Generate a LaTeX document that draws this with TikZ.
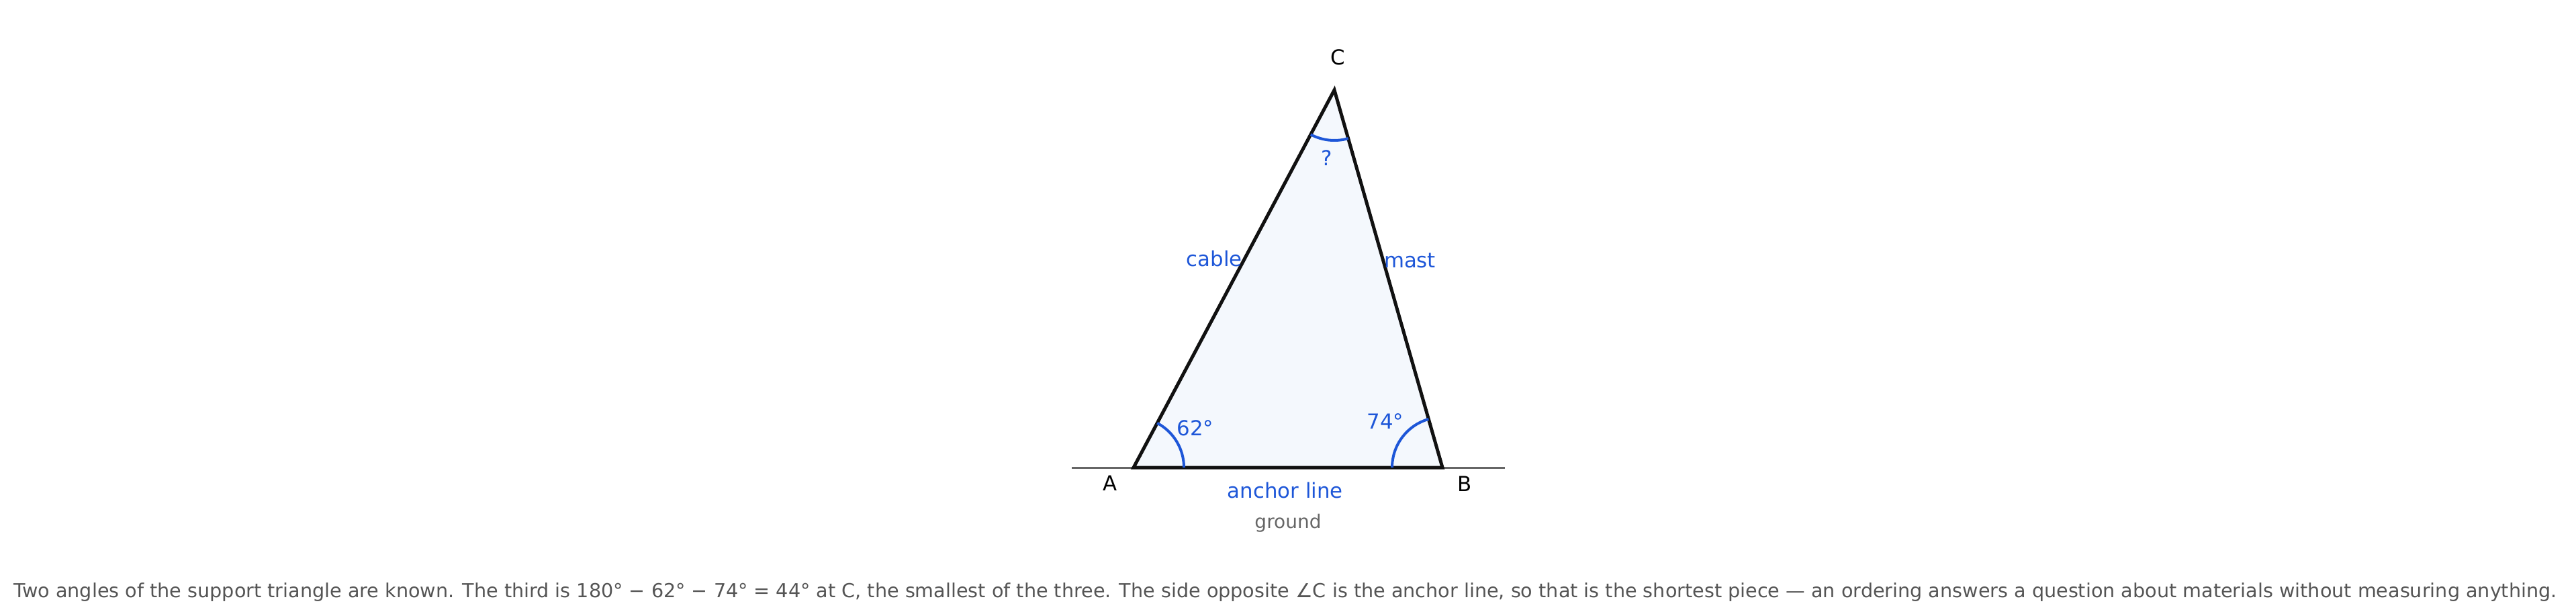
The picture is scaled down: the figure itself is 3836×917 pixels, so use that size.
\documentclass[tikz,border=0pt]{standalone}
\usepackage{fontspec}
\setmainfont{DejaVu Sans}
\usepackage{graphicx}
\definecolor{lblue}{RGB}{29,86,216}
\definecolor{trifill}{HTML}{F4F8FD}
\definecolor{edge}{HTML}{111111}
\definecolor{gnd}{HTML}{666666}
\definecolor{capgray}{HTML}{555555}
\tikzset{
  tri/.style={draw=edge,line width=5pt,fill=trifill,line join=miter},
  groundline/.style={draw=gnd,line width=3pt},
  anglearc/.style={draw=lblue,line width=4pt},
  vlabel/.style={inner sep=0pt,anchor=base,text=black,font=\fontsize{30.8pt}{36pt}\selectfont},
  blabel/.style={inner sep=0pt,anchor=base,text=lblue,font=\fontsize{30.8pt}{36pt}\selectfont},
  glabel/.style={inner sep=0pt,anchor=base,text=gnd,font=\fontsize{28pt}{33pt}\selectfont},
  caplabel/.style={inner sep=0pt,anchor=base,text=capgray,font=\fontsize{28pt}{33pt}\selectfont}
}
\begin{document}
\begin{tikzpicture}[x=1pt,y=-1pt]
\useasboundingbox (0,0) rectangle (3836,917);
% vertices
\coordinate (A) at (1688,696);
\coordinate (B) at (2148,696);
\coordinate (C) at (1987,134);
\coordinate (gL) at (1596,696);
\coordinate (gR) at (2241,696);
% ground
\draw[groundline] (gL) -- (gR);
% triangle
\draw[tri] (A) -- (B) -- (C) -- cycle;
% angle arcs
\draw[anglearc] ([shift={(0:75pt)}]A) arc[start angle=0,end angle=62,radius=75pt];
\draw[anglearc] ([shift={(180:75pt)}]B) arc[start angle=180,end angle=106,radius=75pt];
\draw[anglearc] ([shift={(242:75pt)}]C) arc[start angle=242,end angle=286,radius=75pt];
% labels
\node[vlabel] (lC) at (1992.7,97) {C};
\node[vlabel] (lA) at (1653,730.5) {A};
\node[vlabel] (lB) at (2180.7,731) {B};
\node[blabel] (lq) at (1976,246.7) {?};
\node[blabel] (la) at (1779.7,648.3) {62°};
\node[blabel] (lb) at (2062.7,638.3) {74°};
\node[blabel] (lcable) at (1808.3,396) {cable};
\node[blabel] (lmast) at (2099.5,398.3) {mast};
\node[blabel] (lanchor) at (1913.7,741.7) {anchor line};
\node[glabel] (lground) at (1918,786.7) {ground};
\node[caplabel] (cap) at (1914,889.3) {\resizebox{3787pt}{!}{Two angles of the support triangle are known. The third is 180° − 62° − 74° = 44° at C, the smallest of the three. The side opposite ∠C is the anchor line, so that is the shortest piece — an ordering answers a question about materials without measuring anything.}};
\end{tikzpicture}
\end{document}
